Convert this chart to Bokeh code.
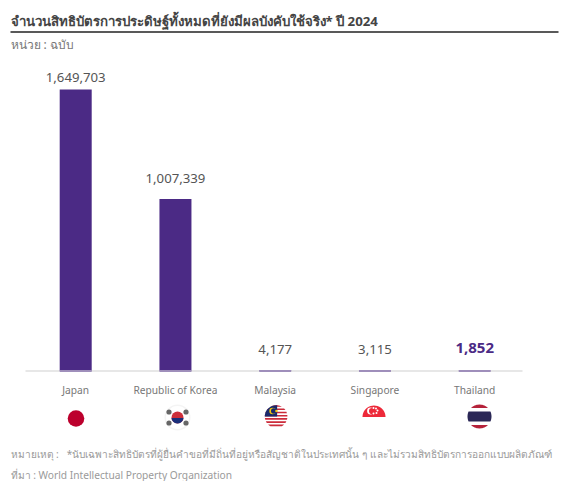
from bokeh.core.properties import value
from bokeh.embed import file_html
from bokeh.models import Range1d
from bokeh.plotting import figure
from bokeh.resources import INLINE
import numpy as np

categories = ["Japan", "Republic of Korea", "Malaysia", "Singapore", "Thailand"]
patents = [1649703, 1007339, 4177, 3115, 1852]
patent_labels = ["1,649,703", "1,007,339", "4,177", "3,115", "1,852"]
title = "จำนวนสิทธิบัตรการประดิษฐ์ทั้งหมดที่ยังมีผลบังคับใช้จริง* ปี 2024"
unit = "หน่วย : ฉบับ"
note = "หมายเหตุ :\u00a0\u00a0\u00a0*นับเฉพาะสิทธิบัตรที่ผู้ยื่นคำขอที่มีถิ่นที่อยู่หรือสัญชาติในประเทศนั้น ๆ และไม่รวมสิทธิบัตรการออกแบบผลิตภัณฑ์"
source_note = "ที่มา : World Intellectual Property Organization"

W, H = 572, 481
BASE_Y = 370.5
TOP_Y = 89
PURPLE = "#4b2a85"
FONT = value("Noto Sans")

per_px = max(patents) / (BASE_Y - TOP_Y)
slot = 99.75
first = 75.2
positions = np.arange(len(categories))

p = figure(
    width=W, height=H, output_backend="svg", toolbar_location=None,
    x_range=Range1d(-first / slot, (W - first) / slot),
    y_range=Range1d(-(H - BASE_Y) * per_px, BASE_Y * per_px),
    min_border=0, outline_line_color=None, background_fill_color="white",
    border_fill_color="white",
)
p.axis.visible = False
p.grid.visible = False

# Pixel-based ranges for page furniture: headings, notes and flags
p.extra_x_ranges = {"px": Range1d(0, W)}
p.extra_y_ranges = {"px": Range1d(H, 0)}
px = dict(x_range_name="px", y_range_name="px")


def label(x, y, text, size, color, style="normal", align="left"):
    p.text([x], [y], text=[text], text_font=FONT, text_font_size=size, text_color=color,
           text_font_style=style, text_align=align, text_baseline="middle", **px)


def disc(cx, cy, r, color):
    p.circle([cx], [cy], radius=r, fill_color=color, line_color=None, **px)


def clipped_band(cx, cy, r, y0, y1, color):
    # Horizontal slice of a flag disc between y0 and y1
    ys = np.linspace(max(y0, cy - r), min(y1, cy + r), 24)
    half = np.sqrt(np.maximum(r * r - (ys - cy) ** 2, 0))
    p.patch(np.r_[cx - half, (cx + half)[::-1]], np.r_[ys, ys[::-1]],
            fill_color=color, line_color=None, **px)


# Bars and baseline
p.vbar(x=positions, top=patents, bottom=0, width=32 / slot, fill_color=PURPLE, line_color=None)
p.segment(x0=positions - 16 / slot, x1=positions + 16 / slot, y0=0, y1=0,
          line_color="#6f4fa6", line_width=2)
p.segment([25], [BASE_Y], [522], [BASE_Y], line_color="#cfcfcf", line_width=1, **px)

# Value labels above each bar
label_gaps = [12.5, 21, 21, 21, 23]
for i, (v, t, gap) in enumerate(zip(patents, patent_labels, label_gaps)):
    last = i == len(patents) - 1
    p.text([i], [v], text=[t], text_font=FONT,
           text_font_size="15px" if last else "13.2px",
           text_font_style="bold" if last else "normal",
           text_color=PURPLE if last else "#555555",
           text_align="center", text_baseline="middle", y_offset=-gap)

# Category labels
p.text(positions, [389.5] * len(categories), text=categories, text_font=FONT, text_font_size="10.2px",
       text_color="#777777", text_align="center", text_baseline="middle", y_range_name="px")

# Heading and notes
label(10, 20, title, "13.25px", "#444444", "bold")
p.segment([10], [31.5], [558], [31.5], line_color="#222222", line_width=1.3, **px)
label(10, 44, unit, "12px", "#777777")
label(10, 453, note, "10.1px", "#9a9a9a")
label(10, 474.5, source_note, "10.2px", "#9a9a9a")

# Japan
disc(75.5, 418, 8.3, "#bc002d")

# Republic of Korea
disc(177, 417, 13, "#f4f4f4")
disc(177, 417, 11.5, "#ffffff")
disc(177, 417, 6, "#cd2e3a")
clipped_band(177, 417, 6, 417.5, 424, "#1a2f7a")
for dx, dy in [(-8.5, -5.5), (8.5, -5.5), (-8.5, 5.5), (8.5, 5.5)]:
    disc(177 + dx, 417 + dy, 2.6, "#666666")

# Malaysia
cx, cy, r = 275.6, 416, 11.3
disc(cx, cy, r, "#ffffff")
for k in range(7):
    y0 = cy - r + k * 2 * r / 7
    clipped_band(cx, cy, r, y0, y0 + r / 7, "#cc2b3a")
ys = np.linspace(cy - r, cy, 24)
edge = np.sqrt(np.maximum(r * r - (ys - cy) ** 2, 0))
p.patch(np.r_[cx - edge, [cx + 1, cx + 1]], np.r_[ys, [cy, cy - r]],
        fill_color="#1a2a6c", line_color=None, **px)
disc(cx - 3.5, cy - 5.5, 3.3, "#f6c90e")
disc(cx - 2.4, cy - 5.5, 2.7, "#1a2a6c")
disc(cx + 0.3, cy - 5.5, 1.2, "#f6c90e")

# Singapore
clipped_band(373.5, 416.5, 11.5, 405, 416.5, "#ed2939")
disc(370, 410.5, 3.4, "#ffffff")
disc(371.6, 410.5, 3.1, "#ed2939")
p.scatter([373, 375.5, 373, 376, 377], [407.5, 408, 413, 412.5, 410], size=2,
          fill_color="#ffffff", line_color=None, **px)

# Thailand
cx, cy, r = 479, 416, 12
disc(cx, cy, r, "#ffffff")
clipped_band(cx, cy, r, cy - r, cy - r + 3.6, "#b5223a")
clipped_band(cx, cy, r, cy + r - 3.6, cy + r, "#b5223a")
clipped_band(cx, cy, r, cy - 5, cy + 5, "#2a2756")

open("out.html", "w").write(file_html(p, INLINE))
